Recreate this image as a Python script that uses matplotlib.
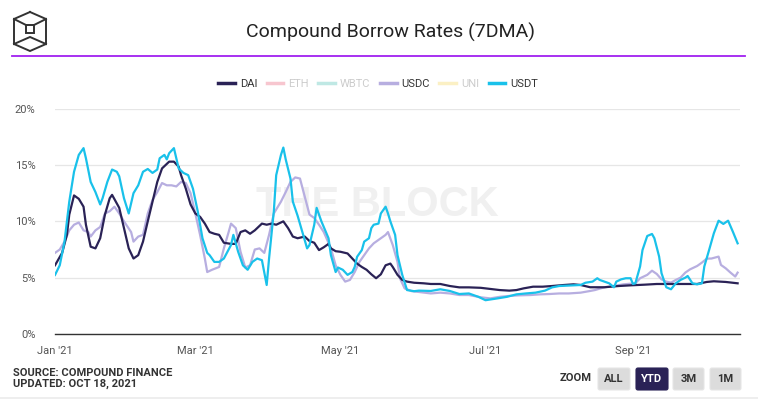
import numpy as np
import matplotlib
matplotlib.use('Agg')
import matplotlib.pyplot as plt
import matplotlib.dates as mdates
from matplotlib.lines import Line2D
from matplotlib.patches import FancyBboxPatch, Rectangle

plt.rcParams['font.family'] = ['Roboto', 'DejaVu Sans']

START = np.datetime64('2021-01-01')

# days since Jan 1 2021 / borrow rate in %
dai_days = [0, 3, 5, 6, 8, 10, 12, 13, 15, 17, 19, 21, 23, 24, 27, 29, 31, 33, 35, 37,
            39, 41, 43, 45, 48, 50, 52, 53, 55, 57, 59, 61, 63, 65, 67, 69, 71, 74, 76, 78,
            80, 82, 84, 87, 89, 91, 93, 96, 98, 100, 102, 105, 107, 109, 111, 113, 115, 116,
            118, 120, 123, 125, 127, 129, 131, 133, 135, 137, 139, 141, 142, 144, 146, 148,
            151, 155, 158, 162, 166, 170, 174, 179, 183, 187, 191, 194, 197, 201, 205, 209,
            214, 218, 221, 225, 231, 237, 242, 248, 253, 259, 265, 270, 274, 277, 282, 287]
dai_vals = [6.1, 7.2, 8.8, 10.6, 12.3, 12.0, 11.3, 9.7, 7.75, 7.6, 8.5, 10.6, 12.05, 12.35,
            11.2, 9.4, 7.6, 6.7, 7.0, 8.2, 10.0, 11.75, 13.5, 14.7, 15.3, 15.3, 14.85, 14.1,
            12.9, 11.5, 10.7, 10.4, 9.8, 9.05, 8.9, 8.8, 8.1, 8.0, 8.0, 9.05, 9.2, 8.9, 9.2,
            9.8, 9.7, 9.8, 9.7, 10.0, 9.4, 8.65, 8.5, 8.65, 8.25, 8.1, 7.45, 7.7, 8.0, 7.6,
            7.35, 7.3, 7.15, 6.7, 6.25, 5.95, 5.7, 5.3, 4.95, 5.3, 6.1, 6.25, 5.95, 5.25,
            4.8, 4.65, 4.55, 4.5, 4.44, 4.44, 4.26, 4.14, 4.14, 4.1, 4.0, 3.9, 3.85, 3.9,
            4.05, 4.2, 4.2, 4.26, 4.35, 4.41, 4.35, 4.15, 4.15, 4.26, 4.32, 4.38, 4.44,
            4.44, 4.44, 4.44, 4.62, 4.68, 4.62, 4.5]

usdc_days = [0, 2, 4, 6, 8, 10, 12, 14, 15, 17, 19, 21, 23, 25, 27, 29, 32, 33, 35, 37,
             39, 41, 43, 45, 47, 49, 51, 53, 55, 57, 59, 61, 63, 64, 66, 69, 71, 73, 74, 76,
             78, 80, 82, 84, 86, 88, 90, 92, 95, 97, 99, 101, 103, 105, 107, 109, 111, 113,
             116, 118, 120, 122, 124, 126, 128, 130, 132, 134, 137, 139, 140, 142, 144, 145,
             147, 150, 153, 158, 162, 166, 170, 174, 179, 183, 187, 191, 195, 200, 204, 208,
             212, 216, 221, 225, 227, 231, 235, 239, 244, 246, 249, 251, 253, 255, 257, 259,
             261, 263, 265, 267, 270, 272, 274, 276, 279, 280, 282, 284, 286, 287]
usdc_vals = [7.2, 7.5, 8.2, 9.2, 9.7, 9.9, 9.2, 9.05, 8.65, 9.2, 9.5, 10.7, 10.9, 11.3,
             10.7, 10.0, 9.05, 8.2, 8.65, 8.8, 10.7, 11.9, 12.6, 13.4, 13.2, 13.2, 13.1,
             13.5, 13.4, 12.5, 10.7, 8.8, 6.7, 5.5, 5.7, 5.95, 7.6, 9.05, 9.8, 9.4, 7.3, 5.9,
             6.1, 7.5, 7.6, 7.2, 8.8, 10.7, 11.75, 12.6, 13.5, 13.9, 13.8, 12.2, 10.6, 10.3,
             9.7, 9.05, 7.6, 6.1, 5.25, 4.65, 4.8, 5.5, 6.4, 7.0, 7.6, 8.05, 8.5, 8.8, 9.05,
             7.9, 6.4, 4.95, 4.05, 3.8, 3.73, 3.6, 3.67, 3.6, 3.46, 3.46, 3.26, 3.16, 3.3,
             3.38, 3.43, 3.46, 3.52, 3.55, 3.6, 3.6, 3.67, 3.82, 3.9, 4.15, 4.26, 4.41, 4.5,
             4.95, 5.25, 5.62, 5.33, 4.85, 4.65, 4.56, 4.8, 5.0, 5.45, 5.74, 6.04, 6.34,
             6.69, 6.7, 6.87, 6.13, 5.83, 5.45, 5.1, 5.45]

usdt_days = [0, 2, 4, 6, 8, 10, 12, 13, 15, 17, 19, 20, 22, 24, 26, 27, 29, 31, 33, 35,
             37, 39, 41, 43, 44, 46, 47, 48, 50, 52, 54, 56, 58, 60, 62, 64, 65, 67, 69, 71,
             74, 75, 77, 79, 81, 83, 85, 87, 89, 90, 92, 93, 95, 96, 97, 99, 100, 102, 104,
             106, 107, 109, 110, 112, 113, 115, 116, 118, 119, 121, 123, 125, 126, 127, 129,
             130, 132, 133, 134, 136, 137, 139, 140, 141, 143, 144, 146, 148, 151, 153, 158,
             162, 166, 170, 174, 178, 181, 186, 190, 194, 198, 202, 206, 209, 212, 216, 221,
             223, 226, 228, 229, 231, 233, 235, 236, 238, 240, 242, 243, 244, 246, 247, 249,
             251, 252, 254, 255, 257, 259, 261, 263, 265, 266, 268, 270, 272, 273, 275, 277,
             279, 281, 283, 285, 287]
usdt_vals = [5.24, 6.1, 8.2, 11.75, 14.4, 15.9, 16.5, 15.6, 13.5, 12.6, 11.5, 12.05, 13.5,
             14.6, 14.4, 14.0, 12.05, 10.7, 12.5, 13.2, 14.4, 14.65, 14.3, 14.6, 15.6, 15.9,
             15.5, 16.05, 16.5, 14.7, 14.3, 14.1, 12.9, 10.9, 8.5, 7.2, 7.0, 6.4, 6.4, 6.7,
             7.9, 8.8, 7.3, 6.1, 5.7, 6.4, 6.7, 6.55, 4.35, 6.7, 10.9, 14.1, 15.9, 16.55,
             15.5, 13.8, 11.75, 10.5, 9.05, 7.6, 7.9, 9.7, 11.2, 10.0, 9.5, 8.5, 7.0, 5.5,
             5.9, 5.7, 5.25, 5.5, 5.95, 6.85, 7.45, 8.2, 8.5, 9.4, 9.7, 9.8, 10.7, 11.3, 10.7,
             10.0, 8.8, 7.0, 5.25, 3.9, 3.8, 3.85, 3.82, 3.97, 3.82, 3.55, 3.6, 3.3, 3.0,
             3.16, 3.3, 3.52, 3.6, 3.67, 3.85, 4.14, 4.26, 4.3, 4.35, 4.55, 4.65, 4.95, 4.8,
             4.65, 4.5, 4.15, 4.65, 4.85, 4.95, 4.95, 4.44, 4.5, 6.0, 7.45, 8.7, 8.88, 8.5,
             6.87, 5.4, 4.15, 3.97, 4.5, 4.8, 5.0, 5.15, 4.5, 4.41, 4.5, 6.0, 7.45, 8.94,
             10.06, 9.77, 10.06, 9.08, 8.05]

series_names = ['DAI', 'ETH', 'WBTC', 'USDC', 'UNI', 'USDT']
series_colors = ['#2a2256', '#f7c6cf', '#bfe8e4', '#b7aee0', '#fbf0c4', '#19c1ea']
hidden = ['ETH', 'WBTC', 'UNI']
y_ticks = [0, 5, 10, 15, 20]


def to_dates(days):
    return START + np.array(days).astype('timedelta64[D]')


fig = plt.figure(figsize=(7.58, 3.99), dpi=100)
ax = fig.add_axes([55 / 758, 65 / 399, 685 / 758, 225.3 / 399])

ax.plot(to_dates(dai_days), dai_vals, color=series_colors[0], lw=1.6, zorder=5)
ax.plot(to_dates(usdc_days), usdc_vals, color=series_colors[3], lw=1.6, zorder=4)
ax.plot(to_dates(usdt_days), usdt_vals, color=series_colors[5], lw=1.6, zorder=6)

ax.set_xlim(START, START + np.timedelta64(288, 'D'))
ax.set_ylim(0, 20)
ax.set_yticks(y_ticks)
ax.set_yticklabels(['{}%'.format(v) for v in y_ticks])
ax.xaxis.set_major_locator(mdates.MonthLocator(bymonth=[1, 3, 5, 7, 9]))
ax.xaxis.set_major_formatter(mdates.DateFormatter("%b '%y"))
ax.tick_params(axis='both', length=0, labelsize=8, labelcolor='#555555')
ax.tick_params(axis='y', pad=14)
ax.tick_params(axis='x', pad=9)
ax.grid(axis='y', color='#e6e6e6', lw=0.9)
ax.set_axisbelow(True)
for s in ['top', 'right', 'left']:
    ax.spines[s].set_visible(False)
ax.spines['bottom'].set_color('#333333')
ax.spines['bottom'].set_linewidth(1.0)

# watermark, kept under the lines
ax.text(377 / 758, 1 - 205 / 399, 'THE BLOCK', ha='center', va='center', fontsize=30,
        fontweight='bold', color='#f0f0f0', family='Liberation Sans', zorder=1,
        transform=fig.transFigure)

# title and purple rule
fig.text(390 / 758, 1 - 32 / 399, 'Compound Borrow Rates (7DMA)', ha='center', va='center',
         fontsize=14, color='#222222')
fig.add_artist(Line2D([12 / 758, 745 / 758], [1 - 56 / 399, 1 - 56 / 399],
                      color='#a020f0', lw=1.3, transform=fig.transFigure))

# legend
handles = [Line2D([], [], color=c, lw=2.5) for c in series_colors]
leg = fig.legend(handles, series_names, loc='center', bbox_to_anchor=(378 / 758, 1 - 84 / 399),
                 ncol=6, frameon=False, fontsize=8, handlelength=1.5, handletextpad=0.45,
                 columnspacing=0.85)
for txt, name in zip(leg.get_texts(), series_names):
    txt.set_color('#cccccc' if name in hidden else '#333333')

# logo, drawn in pixel units
lax = fig.add_axes([10 / 758, 1 - 56 / 399, 40 / 758, 48 / 399])
lax.set_xlim(10, 50)
lax.set_ylim(56, 8)
lax.axis('off')
lc = dict(color='#333333', lw=1.4, solid_joinstyle='miter')
lax.plot([30, 46, 46, 30, 14, 14, 30], [12, 19, 44, 51, 44, 19, 12], **lc)
lax.plot([26, 34, 34, 26, 26], [25, 25, 33, 33, 25], **lc)
lax.plot([14, 26], [19, 25], **lc)
lax.plot([46, 34], [19, 25], **lc)
lax.plot([14, 30, 46], [44, 37, 44], **lc)

# footer
fig.text(13 / 758, 1 - 373 / 399, 'SOURCE: COMPOUND FINANCE', ha='left', va='center',
         fontsize=8, fontweight='bold', color='#333333')
fig.text(13 / 758, 1 - 384 / 399, 'UPDATED: OCT 18, 2021', ha='left', va='center',
         fontsize=8, fontweight='bold', color='#333333')
fig.text(576 / 758, 1 - 378 / 399, 'ZOOM', ha='center', va='center', fontsize=8,
         fontweight='bold', color='#333333')

buttons = [('ALL', 598, 630), ('YTD', 636, 668), ('3M', 673, 704), ('1M', 710, 741)]
for label, x0, x1 in buttons:
    active = label == 'YTD'
    box = FancyBboxPatch((x0 / 100, (399 - 390) / 100), (x1 - x0) / 100, 0.22,
                         boxstyle='round,pad=0,rounding_size=0.02',
                         transform=fig.dpi_scale_trans,
                         facecolor='#2a2256' if active else '#dcdcdc',
                         edgecolor='#2a2256' if active else '#e6e6e6', lw=0.8)
    fig.add_artist(box)
    fig.text((x0 + x1) / 2 / 758, 1 - 379 / 399, label, ha='center', va='center',
             fontsize=8, fontweight='bold', color='white' if active else '#333333')

fig.add_artist(Rectangle((0, 0), 1, 2 / 399, transform=fig.transFigure,
                         facecolor='#eeeeee', edgecolor='none'))

fig.savefig('out.png', dpi=100)
